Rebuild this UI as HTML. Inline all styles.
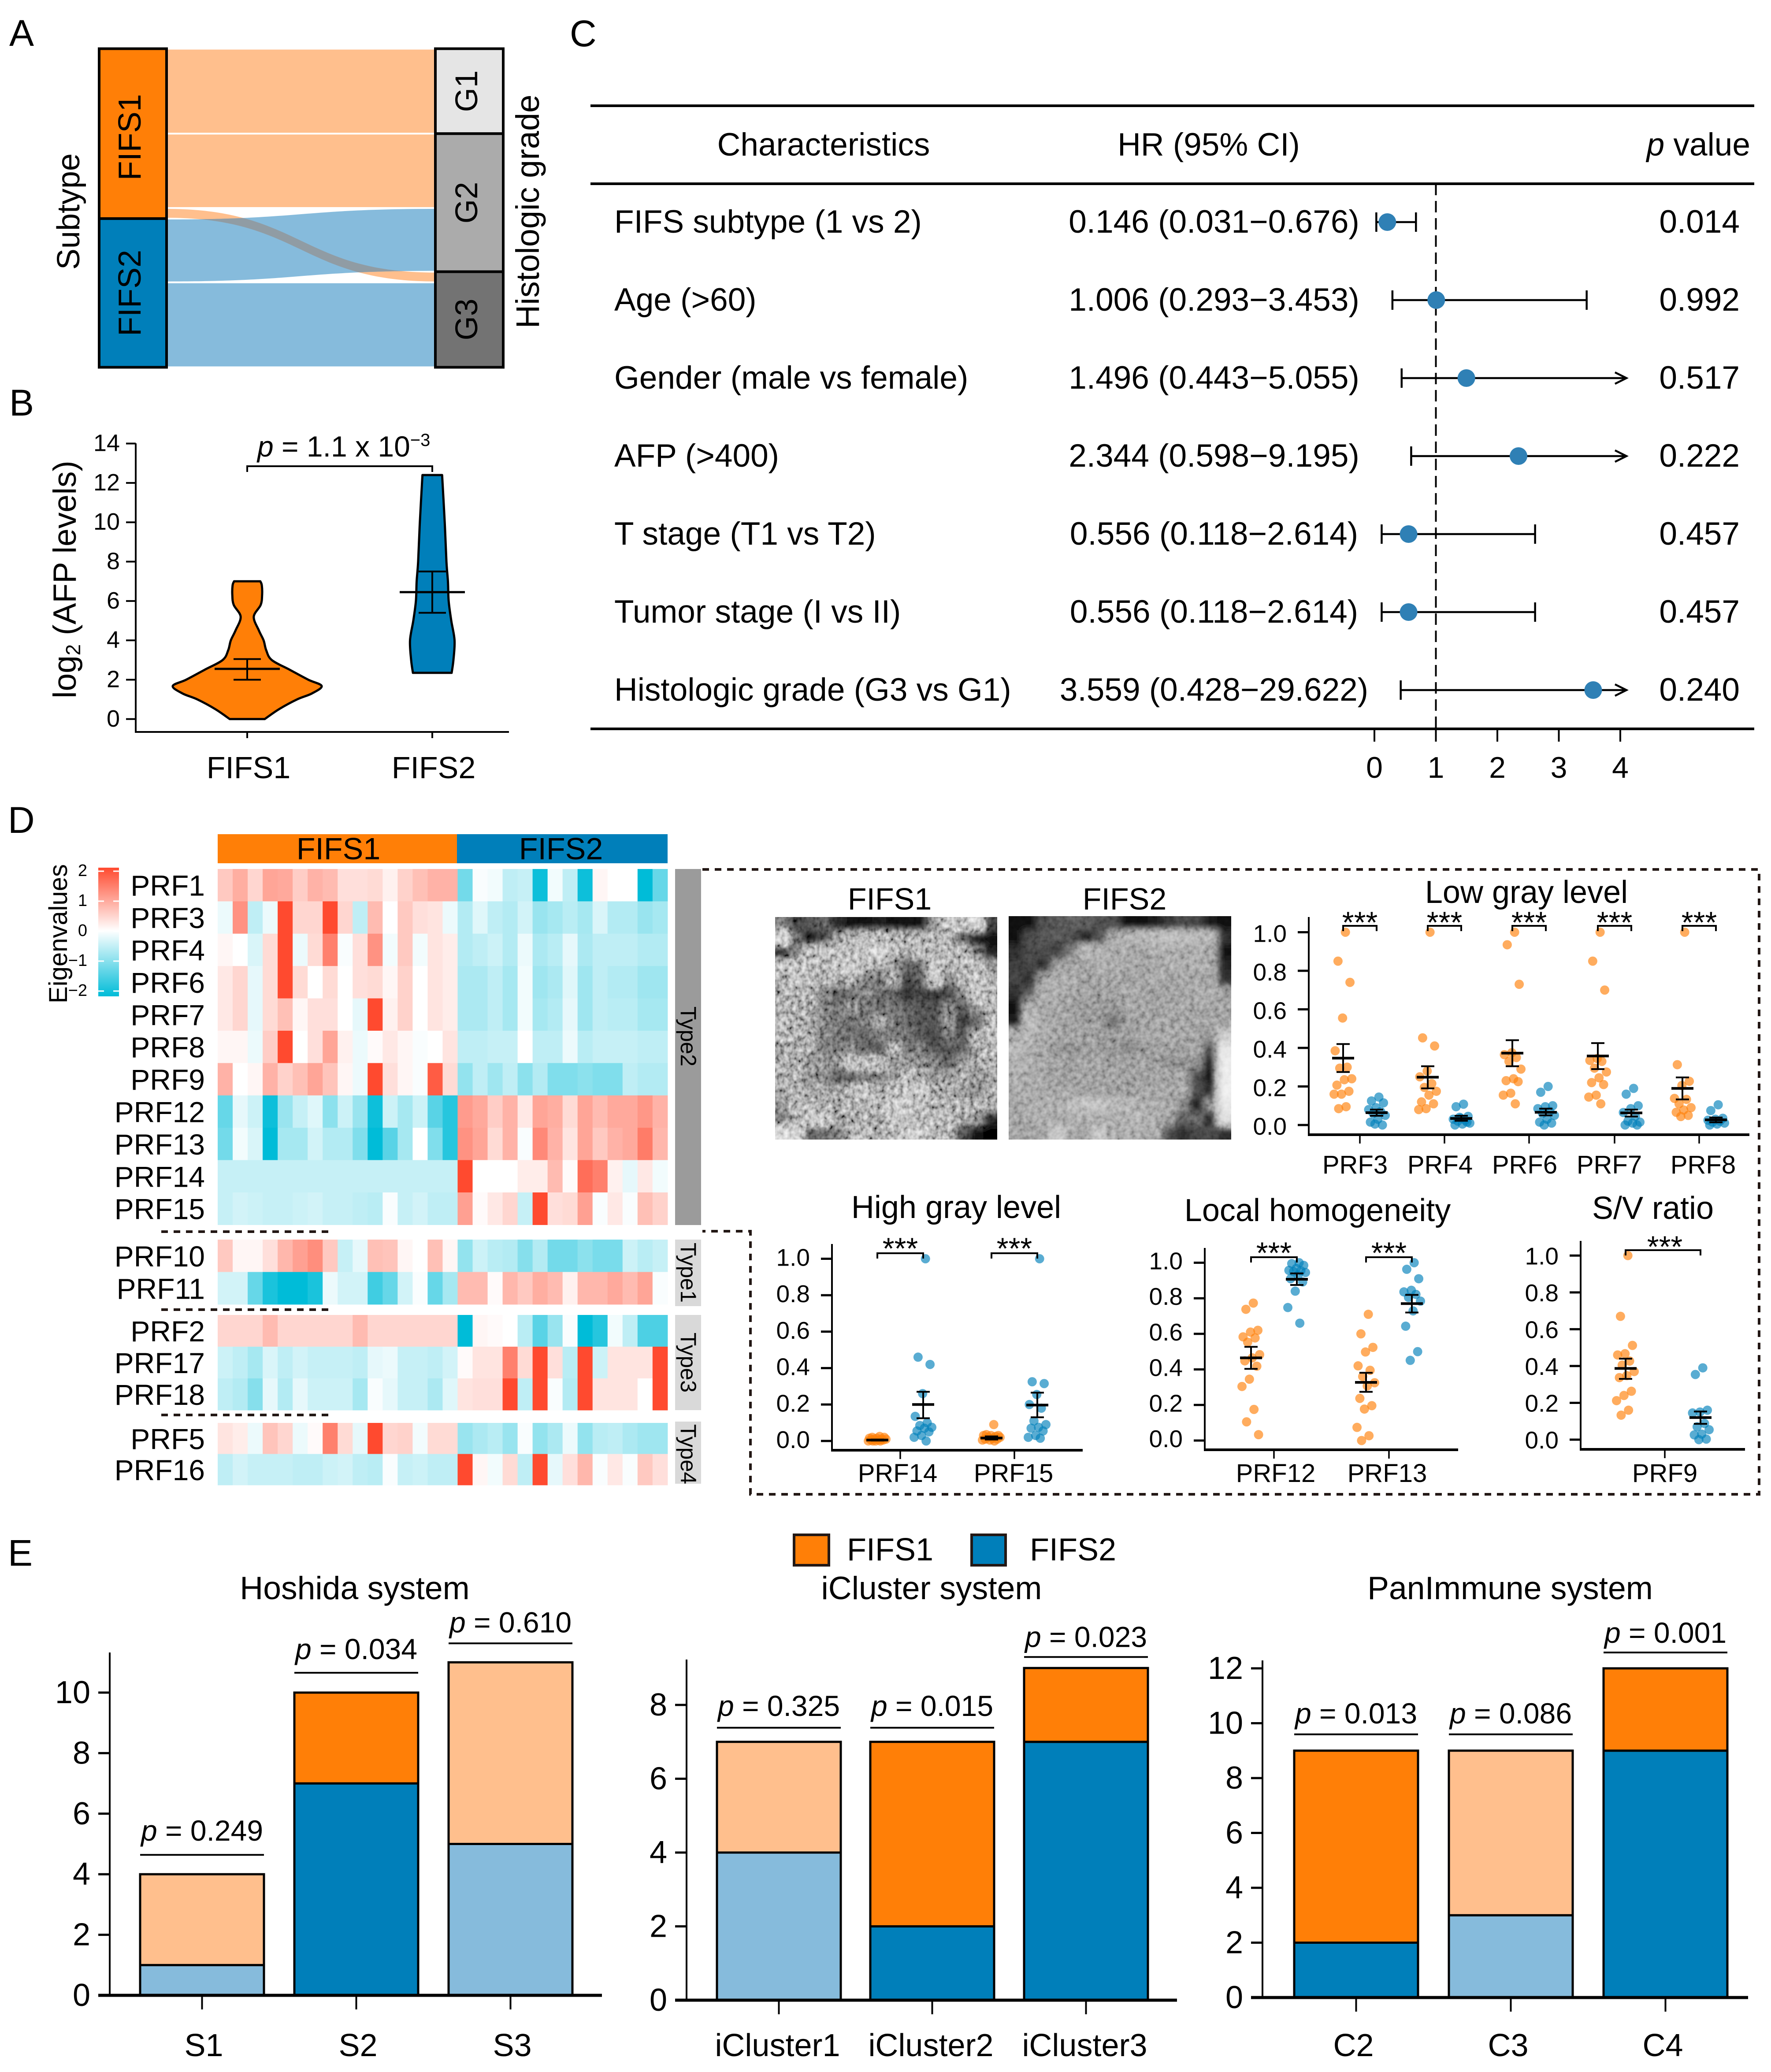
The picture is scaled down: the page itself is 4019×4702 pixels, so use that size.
<!DOCTYPE html>
<html lang="en">
<head>
<meta charset="utf-8">
<title>FIFS subtype composite figure</title>
<style>
html,body{margin:0;padding:0;background:#fff;}
svg{display:block;font-family:"Liberation Sans",Arial,sans-serif;fill:#000;}
</style>
</head>
<body>
<svg id="fig" xmlns="http://www.w3.org/2000/svg" width="4019" height="4702" viewBox="0 0 4019 4702">
<defs id="figDefs">
<linearGradient id="heatLegendGrad" x1="0" y1="0" x2="0" y2="1">
<stop offset="0" stop-color="#FF4A2F"/><stop offset="0.49" stop-color="#FFFFFF"/><stop offset="1" stop-color="#00BCD8"/>
</linearGradient>
<filter id="ctBlur" x="-5%" y="-5%" width="110%" height="110%"><feGaussianBlur stdDeviation="8"/></filter>
<filter id="ctNoiseA" x="0" y="0" width="1" height="1">
<feTurbulence type="fractalNoise" baseFrequency="0.1 0.085" numOctaves="2" seed="4"/>
<feColorMatrix values="1.5 0 0 0 -0.25  1.5 0 0 0 -0.25  1.5 0 0 0 -0.25  0 0 0 0 1"/>
</filter>
<filter id="ctNoiseB" x="0" y="0" width="1" height="1">
<feTurbulence type="fractalNoise" baseFrequency="0.09 0.09" numOctaves="2" seed="9"/>
<feColorMatrix values="1.2 0 0 0 -0.1  1.2 0 0 0 -0.1  1.2 0 0 0 -0.1  0 0 0 0 1"/>
</filter>
<clipPath id="ct1Clip"><rect x="1759" y="2081" width="504" height="505"/></clipPath>
<clipPath id="ct2Clip"><rect x="2289" y="2079" width="505" height="507"/></clipPath>
</defs>

<g font-size="84">
<text x="21" y="104">A</text>
<text x="21" y="943">B</text>
<text x="1293" y="105">C</text>
<text x="18" y="1890">D</text>
<text x="18" y="3553">E</text>
</g>

<g id="panelA">
<text transform="translate(180,480) rotate(-90)" text-anchor="middle" font-size="72">Subtype</text>
<text transform="translate(1223,480) rotate(-90)" text-anchor="middle" font-size="74">Histologic grade</text>
</g>

<g id="panelB">
<text transform="translate(172,1315) rotate(-90)" text-anchor="middle" font-size="73">log<tspan font-size="46" dy="10">2</tspan><tspan dy="-10"> (AFP levels)</tspan></text>
<text x="584" y="1036" font-size="66"><tspan font-style="italic">p</tspan> = 1.1 x 10<tspan font-size="40" dy="-24">−3</tspan></text>
</g>

<g id="panelC">
<text x="1869" y="353" text-anchor="middle" font-size="73">Characteristics</text>
<text x="2743" y="353" text-anchor="middle" font-size="73">HR (95% CI)</text>
<text x="3972" y="353" text-anchor="end" font-size="73"><tspan font-style="italic">p</tspan> value</text>
</g>

<g id="panelD">
<text transform="translate(152,2119) rotate(-90)" text-anchor="middle" font-size="58">Eigenvalues</text>
<rect x="223" y="1969" width="47" height="292" fill="url(#heatLegendGrad)"/>
<rect x="494" y="1893" width="543" height="66" fill="#FF7F07"/>
<rect x="1037" y="1893" width="478" height="66" fill="#007FBA"/>
<text x="768" y="1950" text-anchor="middle" font-size="70">FIFS1</text>
<text x="1273" y="1950" text-anchor="middle" font-size="70">FIFS2</text>
</g>

<g fill="none" stroke="#231815" stroke-width="6" stroke-dasharray="15 13">
<path d="M1594 1973H3992V3391H1703V2794H1594"/>
<path d="M366 2795H747"/>
<path d="M366 2972H747"/>
<path d="M366 3211H747"/>
</g>

<g id="panelCT">
<text x="2019" y="2064" text-anchor="middle" font-size="70">FIFS1</text>
<text x="2552" y="2064" text-anchor="middle" font-size="70">FIFS2</text>
</g>

<g id="panelDots">
<text x="3464" y="2049" text-anchor="middle" font-size="72">Low gray level</text>
<text x="2170" y="2764" text-anchor="middle" font-size="72">High gray level</text>
<text x="2990" y="2771" text-anchor="middle" font-size="72">Local homogeneity</text>
<text x="3751" y="2766" text-anchor="middle" font-size="72">S/V ratio</text>
</g>

<g id="panelE">
<rect x="1802" y="3483" width="79" height="69" fill="#FF7F07" stroke="#231815" stroke-width="6"/>
<text x="2020" y="3541" text-anchor="middle" font-size="72">FIFS1</text>
<rect x="2205" y="3483" width="77" height="69" fill="#007FBA" stroke="#231815" stroke-width="6"/>
<text x="2435" y="3541" text-anchor="middle" font-size="72">FIFS2</text>
<text x="805" y="3629" text-anchor="middle" font-size="73.3">Hoshida system</text>
<text x="2114" y="3629" text-anchor="middle" font-size="73.3">iCluster system</text>
<text x="3427" y="3629" text-anchor="middle" font-size="73.3">PanImmune system</text>
</g>
</svg>

<script>
/* ---------- Panel A data ---------- */
const sankeySources = ['FIFS1','FIFS1','FIFS1','FIFS2','FIFS2'];
const sankeyTargets = ['G1','G2','G3','G2','G3'];
const sankeyCounts = [8,7,1,6,8];

/* ---------- Panel B data ---------- */
const violinF1Levels = [0,0.5,1,1.3,1.68,2,2.5,3,3.5,4,4.5,5.2,5.8,6.3,6.8,7];
const violinF1Density = [0.235,0.426,0.67,0.868,1,0.82,0.574,0.33,0.255,0.22,0.157,0.088,0.181,0.2,0.196,0.176];
const violinF2Levels = [2.35,3,4,5,6,7,8,10,12.4];
const violinF2Density = [0.26,0.284,0.299,0.255,0.22,0.21,0.19,0.167,0.132];
const violinF1Summary = [2.55,2.0,3.05];
const violinF2Summary = [6.45,5.4,7.5];
const violinTicks = [0,2,4,6,8,10,12,14];
const violinCats = ['FIFS1','FIFS2'];

/* ---------- Panel C data ---------- */
const forestNames = ['FIFS subtype (1 vs 2)','Age (>60)','Gender (male vs female)','AFP (>400)','T stage (T1 vs T2)','Tumor stage (I vs II)','Histologic grade (G3 vs G1)'];
const forestLabels = ['0.146 (0.031−0.676)','1.006 (0.293−3.453)','1.496 (0.443−5.055)','2.344 (0.598−9.195)','0.556 (0.118−2.614)','0.556 (0.118−2.614)','3.559 (0.428−29.622)'];
const forestPValues = ['0.014','0.992','0.517','0.222','0.457','0.457','0.240'];
const forestHR = [0.21,1.006,1.496,2.344,0.556,0.556,3.559];
const forestLow = [0.031,0.293,0.443,0.598,0.118,0.118,0.428];
const forestHigh = [0.676,3.453,5.055,9.195,2.614,2.614,29.622];
const forestTicks = [0,1,2,3,4];

/* ---------- Panel D heatmap data (16 FIFS1 then 14 FIFS2 samples) ---------- */
const heatPRF1 = [.6,.9,.45,1,.95,.55,.85,.75,.35,.35,.4,.15,.5,.7,.85,.85,-1.1,-.05,-.1,-.5,-.45,-1.9,-.1,-.5,-1.9,.1,0,0,-2,-1.2];
const heatPRF3 = [-.15,1.2,-.5,-.15,2,.45,.45,2,.45,-.5,.75,0,.6,.35,.3,-.15,-.6,-.25,-.5,-.6,-.35,-.8,-.7,-.55,-.7,-.3,-.6,-.6,-.8,-.7];
const heatPRF4 = [.1,0,-.3,.4,2,-.15,.4,1.4,-.05,.35,1.2,-.1,.6,-.1,.3,.2,-.6,-.5,-.4,-.6,-.15,-.65,-.55,-.2,-.65,-.5,-.5,-.5,-.6,-.6];
const heatPRF6 = [.25,.45,-.2,.4,2,.4,0,.4,0,.35,.4,.1,.5,0,.3,.2,-.65,-.65,-.5,-.7,-.1,-.75,-.65,-.25,-.75,-.5,-.6,-.6,-.75,-.75];
const heatPRF7 = [.25,.45,-.2,.4,.7,.1,.35,.35,0,-.2,2,.15,.5,0,.3,.2,-.65,-.65,-.5,-.7,-.1,-.7,-.6,-.2,-.75,-.5,-.55,-.55,-.7,-.7];
const heatPRF8 = [.1,.1,-.15,.55,2,0,.35,1,.15,-.15,.05,.25,.1,-.05,0,.3,-.5,-.5,-.45,-.45,0,-.5,-.5,-.15,-.55,-.45,-.45,-.45,-.5,-.5];
const heatPRF9 = [.85,0,.1,.85,.5,.7,1,.65,.1,-.15,2,.35,.1,-.05,1.8,.4,-.85,-.5,-.75,-.5,-.9,-.6,-1,-1,-.9,-1,-1,-.5,-.6,-.6];
const heatPRF12 = [-1.2,-.2,-.4,-1.9,-.8,-.45,-.25,-.9,-.4,-.8,-1.9,-.4,-.7,-.4,-1.3,-1.7,1.1,.95,.55,.85,.25,1,.9,.4,1,.75,.95,.95,1.15,.85];
const heatPRF13 = [-1.1,-.1,-.3,-2,-.7,-.7,-.35,-.6,-.6,-1,-2,-1.3,-.7,0,-1,-1.7,1.2,1,.4,.85,-.05,1.3,.85,.3,1,.6,.85,.95,1.45,.8];
const heatPRF14 = [-.45,-.45,-.45,-.45,-.45,-.45,-.45,-.45,-.45,-.45,-.45,-.45,-.45,-.45,-.45,-.45,2,0,0,0,.2,.2,.75,.05,1.6,1.4,.15,-.2,.25,-.1];
const heatPRF15 = [-.45,-.35,-.4,-.45,-.45,-.4,-.35,-.45,-.45,-.5,-.55,-.05,-.45,-.35,-.5,-.5,1.05,.05,.25,.45,-.45,2,.35,.4,1.05,-.05,.25,-.05,.7,.5];
const heatPRF10 = [.6,.1,.1,.35,.8,1.05,1.25,.6,-.45,-.2,.7,.65,.1,0,.7,.1,-.85,-.4,-.55,-.6,-.95,-.6,-1.1,-1.1,-.9,-1.05,-1.05,-.4,-.55,-.45];
const heatPRF11 = [-.35,-.35,-1.2,-1.8,-2,-2,-1.8,-.15,-.35,-.35,-1.5,-1.2,-.35,-.05,-1.2,-.7,.75,.75,.05,.8,.6,.9,.75,.15,.8,.8,.95,.75,1,-.05];
const heatPRF2 = [.45,.45,.45,.75,.45,.45,.45,.45,.45,.75,.45,.45,.45,.45,.45,.45,-2,.1,.05,0,-.55,-1.3,-.8,-.05,-2,-1.7,-.1,-.5,-1.4,-1.4];
const heatPRF17 = [-.4,-.5,-.7,-.3,-.5,-.35,-.45,-.45,-.45,-.5,-.2,-.15,-.45,-.45,-.5,-.35,.05,.3,.3,1.4,.4,2,.35,-.55,2,-.4,.3,.3,.3,2];
const heatPRF18 = [-.5,-.6,-.95,-.2,-.6,-.2,-.4,-.4,-.4,-.7,-.05,-.2,-.45,-.45,-.65,-.25,.3,.35,.35,2,-.5,2,-.05,-.6,2,.3,.3,.3,0,2];
const heatPRF5 = [.3,.2,-.15,.65,.45,-.15,.05,1.4,.4,-.2,2,.45,.5,-.1,.4,.4,-.8,-.65,-.55,-.8,-.05,-.85,-.65,-.15,-.85,-.55,-.5,-.65,-.75,-.75];
const heatPRF16 = [-.5,-.35,-.45,-.45,-.45,-.5,-.5,-.4,-.35,-.5,-.55,-.05,-.45,-.4,-.5,-.5,2,.1,-.1,.4,-.5,2,-.2,.35,.8,-.05,.25,-.05,.6,.35];
const heatRowNames = ['PRF1','PRF3','PRF4','PRF6','PRF7','PRF8','PRF9','PRF12','PRF13','PRF14','PRF15','PRF10','PRF11','PRF2','PRF17','PRF18','PRF5','PRF16'];
const heatRows = [heatPRF1,heatPRF3,heatPRF4,heatPRF6,heatPRF7,heatPRF8,heatPRF9,heatPRF12,heatPRF13,heatPRF14,heatPRF15,heatPRF10,heatPRF11,heatPRF2,heatPRF17,heatPRF18,heatPRF5,heatPRF16];
const heatBlockNames = ['Type2','Type1','Type3','Type4'];
const heatBlockSizes = [11,2,3,2];
const heatLegendTicks = ['2','1','0','−1','−2'];

/* ---------- Radiomics dot plot data ---------- */
const dotsPRF3F1 = [1,.85,.74,.555,.385,.3,.295,.24,.235,.207,.175,.16,.16,.095,.085];
const dotsPRF3F2 = [.145,.125,.115,.09,.08,.07,.06,.05,.03,.015,0,.005];
const dotsPRF4F1 = [1,.452,.41,.28,.25,.215,.195,.175,.155,.12,.11,.085,.08];
const dotsPRF4F2 = [.108,.095,.045,.035,.03,.025,.02,.01,.005,0,.015,.04];
const dotsPRF6F1 = [1,.935,.73,.375,.365,.35,.33,.29,.24,.23,.225,.165,.155,.11];
const dotsPRF6F2 = [.2,.17,.1,.095,.085,.07,.06,.05,.03,.015,.01,0];
const dotsPRF7F1 = [1,.85,.7,.345,.335,.33,.295,.275,.245,.22,.21,.155,.145,.11];
const dotsPRF7F2 = [.19,.16,.1,.085,.065,.045,.02,.015,.01,0,0];
const dotsPRF8F1 = [1,.313,.227,.205,.138,.133,.11,.09,.078,.066,.05,.044];
const dotsPRF8F2 = [.105,.075,.035,.03,.025,.02,.015,.01,.005,0];
const dotsPRF14F1 = [.025,.02,.02,.015,.015,.01,.01,.01,.005,.005,.005,0,0,0,0];
const dotsPRF14F2 = [1,.46,.42,.26,.135,.1,.085,.075,.07,.055,.05,.03,.02,0];
const dotsPRF15F1 = [.09,.035,.03,.03,.03,.025,.02,.02,.015,.01,.01,.005,.005,0];
const dotsPRF15F2 = [1,.325,.315,.255,.2,.18,.11,.09,.075,.07,.055,.03,.02,.015];
const dotsPRF12F1 = [.773,.738,.62,.61,.583,.577,.553,.483,.465,.448,.418,.345,.304,.175,.105,.033];
const dotsPRF12F2 = [1,.995,.985,.968,.957,.955,.95,.945,.93,.91,.892,.84,.748,.66];
const dotsPRF13F1 = [.71,.6,.524,.498,.42,.395,.36,.325,.307,.237,.196,.177,.074,.027,0];
const dotsPRF13F2 = [1,.963,.91,.845,.836,.822,.805,.784,.729,.643,.5,.451];
const dotsPRF9F1 = [1,.67,.512,.467,.46,.427,.405,.37,.348,.337,.263,.24,.212,.16,.133];
const dotsPRF9F2 = [.39,.354,.16,.15,.145,.088,.07,.054,.03,.026,.003,0];
const summaryPRF3 = [.347,.275,.42,.064,.048,.08];
const summaryPRF4 = [.248,.19,.305,.034,.022,.048];
const summaryPRF6 = [.373,.305,.44,.066,.05,.085];
const summaryPRF7 = [.358,.29,.425,.063,.044,.08];
const summaryPRF8 = [.19,.133,.247,.027,.014,.039];
const summaryPRF14 = [.005,.002,.008,.2,.125,.27];
const summaryPRF15 = [.016,.008,.025,.197,.13,.265];
const summaryPRF12 = [.465,.403,.527,.907,.875,.94];
const summaryPRF13 = [.327,.274,.381,.77,.72,.819];
const summaryPRF9 = [.387,.33,.44,.12,.086,.153];
const dotTicks = ['0.0','0.2','0.4','0.6','0.8','1.0'];

/* ---------- Panel E data ---------- */
const hoshidaCats = ['S1','S2','S3'];
const hoshidaFIFS2 = [1,7,5];
const hoshidaFIFS1 = [3,3,6];
const hoshidaP = ['0.249','0.034','0.610'];
const hoshidaTicks = [0,2,4,6,8,10];
const iclusterCats = ['iCluster1','iCluster2','iCluster3'];
const iclusterFIFS2 = [4,2,7];
const iclusterFIFS1 = [3,5,2];
const iclusterP = ['0.325','0.015','0.023'];
const iclusterTicks = [0,2,4,6,8];
const panimmuneCats = ['C2','C3','C4'];
const panimmuneFIFS2 = [2,3,9];
const panimmuneFIFS1 = [7,6,3];
const panimmuneP = ['0.013','0.086','0.001'];
const panimmuneTicks = [0,2,4,6,8,10,12];

/* ---------- CT brightness maps (coarse gray levels) ---------- */
const ctFIFS1Gray = [
[90,50,60,70,30,15,15,20,10,10,10,110,170,150,190,50],
[200,80,15,50,110,135,150,150,140,135,140,135,120,70,15,10],
[20,90,150,165,150,155,160,195,140,125,150,145,150,145,90,20],
[150,155,150,135,165,170,150,120,110,70,80,160,135,140,150,110],
[130,170,145,130,125,130,90,90,130,50,70,175,90,130,165,130],
[130,130,130,100,70,80,100,80,70,40,50,40,50,100,170,140],
[135,130,125,95,85,110,85,80,85,70,60,55,100,60,110,140],
[150,130,120,100,90,80,90,125,90,75,60,60,110,40,70,125],
[140,130,125,100,85,80,75,90,90,85,65,50,90,65,130,150],
[120,125,125,90,95,100,70,60,135,90,90,65,60,70,120,140],
[130,130,110,110,110,165,160,150,110,110,105,95,70,115,125,125],
[130,130,110,100,65,60,90,90,110,150,120,110,115,125,110,120],
[120,125,120,125,120,150,165,130,140,165,170,130,125,110,100,125],
[110,140,140,125,125,130,140,130,170,170,150,130,125,140,135,130],
[90,130,170,175,120,125,125,125,170,150,140,140,150,120,110,30],
[200,180,70,80,90,130,150,120,130,180,170,140,130,60,10,5]];
const ctFIFS2Gray = [
[10,10,65,70,78,78,65,60,15,10,25,45,60,55,25,10],
[10,60,70,70,65,30,65,140,155,165,170,175,170,165,165,40],
[40,60,60,50,100,165,155,145,145,128,150,150,145,150,138,15],
[50,55,40,122,138,138,145,150,145,138,138,145,150,150,145,30],
[55,40,132,150,145,132,138,138,132,138,145,138,138,138,145,40],
[40,78,155,150,138,138,132,132,145,138,132,138,138,145,150,132],
[10,150,138,138,132,122,122,122,138,138,132,138,138,138,138,138],
[20,172,145,138,132,128,128,95,122,132,138,138,138,138,138,132],
[145,165,145,138,138,132,128,122,132,138,138,145,138,132,122,185],
[165,145,138,122,116,128,128,122,110,122,132,132,132,138,65,225],
[155,150,138,138,132,138,138,132,132,138,128,116,116,116,20,230],
[150,145,138,132,132,138,132,138,132,132,138,138,138,65,15,230],
[145,145,145,138,138,138,132,132,132,138,138,138,145,65,40,235],
[138,145,150,150,165,178,182,165,160,150,145,145,110,10,120,225],
[138,145,150,145,150,150,145,145,155,160,145,132,78,88,30,215],
[138,132,138,188,145,138,182,145,150,145,150,65,40,55,65,40]];

const NS = 'http://www.w3.org/2000/svg';
const ORANGE = '#FF7F07', BLUE = '#007FBA', PEACH = '#FFBF8D', SKY = '#86BBDC', OVERLAP = '#909CA4';

function mk(tag, attrs, parent) {
  const el = document.createElementNS(NS, tag);
  for (const k in attrs) el.setAttribute(k, attrs[k]);
  parent.appendChild(el);
  return el;
}
function seg(parent, x1, y1, x2, y2, w, color) {
  return mk('line', {x1, y1, x2, y2, stroke: color || '#000', 'stroke-width': w}, parent);
}
function label(parent, x, y, str, size, anchor) {
  const el = mk('text', {x, y, 'font-size': size, 'text-anchor': anchor || 'middle'}, parent);
  el.textContent = str;
  return el;
}
function italicP(parent, x, y, str, size) {
  const el = mk('text', {x, y, 'font-size': size, 'text-anchor': 'middle'}, parent);
  const t = mk('tspan', {'font-style': 'italic'}, el);
  t.textContent = 'p';
  el.appendChild(document.createTextNode(' = ' + str));
  return el;
}

/* ---------- Panel A ---------- */
(function drawSankey() {
  const g = document.getElementById('panelA');
  const unit = 24.1, top = 110.5;
  const lx0 = 225, lx1 = 378, rx0 = 988, rx1 = 1142;
  const yOf = c => top + c * unit;
  const srcOrder = ['FIFS1','FIFS2'], tgtOrder = ['G1','G2','G3'];
  const srcTotal = {}, tgtTotal = {};
  sankeyCounts.forEach((c, i) => {
    srcTotal[sankeySources[i]] = (srcTotal[sankeySources[i]] || 0) + c;
    tgtTotal[sankeyTargets[i]] = (tgtTotal[sankeyTargets[i]] || 0) + c;
  });
  const srcStart = {}, tgtStart = {};
  let acc = 0;
  srcOrder.forEach(s => { srcStart[s] = acc; acc += srcTotal[s]; });
  acc = 0;
  tgtOrder.forEach(t => { tgtStart[t] = acc; acc += tgtTotal[t]; });
  const srcUsed = {FIFS1: 0, FIFS2: 0}, tgtUsed = {G1: 0, G2: 0, G3: 0};
  const flowPaths = sankeyCounts.map((c, i) => {
    const s = sankeySources[i], t = sankeyTargets[i];
    const a0 = yOf(srcStart[s] + srcUsed[s]) + 2, a1 = yOf(srcStart[s] + srcUsed[s] + c) - 2;
    const b0 = yOf(tgtStart[t] + tgtUsed[t]) + 2, b1 = yOf(tgtStart[t] + tgtUsed[t] + c) - 2;
    srcUsed[s] += c; tgtUsed[t] += c;
    const mx = (lx1 + rx0) / 2;
    return {s, d: `M${lx1} ${a0}C${mx} ${a0} ${mx} ${b0} ${rx0} ${b0}L${rx0} ${b1}C${mx} ${b1} ${mx} ${a1} ${lx1} ${a1}Z`};
  });
  const clip = mk('clipPath', {id: 'fifs2FlowClip'}, document.getElementById('figDefs'));
  flowPaths.forEach(f => {
    const el = mk('path', {d: f.d, fill: f.s === 'FIFS1' ? PEACH : SKY}, g);
    
    
    if (f.s === 'FIFS2') mk('path', {d: f.d}, clip);
  });
  flowPaths.filter(f => f.s === 'FIFS1').forEach(f => {
    const el = mk('path', {d: f.d, fill: OVERLAP, 'clip-path': 'url(#fifs2FlowClip)'}, g);
    
    
  });
  const fills = {FIFS1: ORANGE, FIFS2: BLUE, G1: '#E5E5E5', G2: '#ABABAB', G3: '#737373'};
  const srcLabelShift = {FIFS1: 8, FIFS2: 0};
  srcOrder.forEach(s => {
    const y0 = yOf(srcStart[s]), h = srcTotal[s] * unit;
    const r = mk('rect', {x: lx0, y: y0, width: lx1 - lx0, height: h, fill: fills[s], stroke: '#000', 'stroke-width': 6}, g);
    
    
    const tx = mk('text', {transform: `translate(319,${y0 + h / 2 + srcLabelShift[s]}) rotate(-90)`, 'font-size': 72, 'text-anchor': 'middle'}, g);
    tx.textContent = s;
    
    
  });
  tgtOrder.forEach(t => {
    const y0 = yOf(tgtStart[t]), h = tgtTotal[t] * unit;
    const r = mk('rect', {x: rx0, y: y0, width: rx1 - rx0, height: h, fill: fills[t], stroke: '#000', 'stroke-width': 6}, g);
    
    
    const tx = mk('text', {transform: `translate(1083,${y0 + h / 2}) rotate(-90)`, 'font-size': 71, 'text-anchor': 'middle'}, g);
    tx.textContent = t;
    
    
  });
})();

/* ---------- Panel B ---------- */
(function drawViolin() {
  const g = document.getElementById('panelB');
  const y = v => 1631.8 - 44.66 * v;
  const cx = [561, 981], maxHalf = 169;
  function smooth(pts) {
    let d = `M${pts[0][0]} ${pts[0][1]}`;
    for (let i = 0; i < pts.length - 1; i++) {
      const p0 = pts[Math.max(i - 1, 0)], p1 = pts[i], p2 = pts[i + 1], p3 = pts[Math.min(i + 2, pts.length - 1)];
      d += `C${p1[0] + (p2[0] - p0[0]) / 6} ${p1[1] + (p2[1] - p0[1]) / 6} ${p2[0] - (p3[0] - p1[0]) / 6} ${p2[1] - (p3[1] - p1[1]) / 6} ${p2[0]} ${p2[1]}`;
    }
    return d;
  }
  function violin(levels, density, c, fill) {
    const left = levels.map((v, i) => [c - density[i] * maxHalf, y(v)]);
    const right = levels.map((v, i) => [c + density[i] * maxHalf, y(v)]).reverse();
    const d = smooth(left) + 'L' + right[0][0] + ' ' + right[0][1] + smooth(right).replace(/^M[^C]+/, '') + 'Z';
    return mk('path', {d, fill, stroke: '#000', 'stroke-width': 5, 'stroke-linejoin': 'round'}, g);
  }
  const v1 = violin(violinF1Levels, violinF1Density, cx[0], ORANGE);
  
  
  const v2 = violin(violinF2Levels, violinF2Density, cx[1], BLUE);
  
  
  [violinF1Summary, violinF2Summary].forEach((s, i) => {
    const m = seg(g, cx[i] - 74, y(s[0]), cx[i] + 74, y(s[0]), 5);
    
    
    const e = mk('path', {d: `M${cx[i] - 31} ${y(s[1])}H${cx[i] + 31}M${cx[i] - 31} ${y(s[2])}H${cx[i] + 31}M${cx[i]} ${y(s[1])}V${y(s[2])}`, fill: 'none', stroke: '#000', 'stroke-width': 4}, g);
    
    
  });
  const ya = seg(g, 308, 1006, 308, 1661, 4);
  
  
  const xa = seg(g, 306, 1661, 1155, 1661, 4);
  
  
  violinTicks.forEach(v => {
    const t = seg(g, 286, y(v), 308, y(v), 4);
    
    
    const l = label(g, 272, y(v) + 17, String(v), 54, 'end');
    
    
  });
  violinCats.forEach((c, i) => {
    const t = seg(g, cx[i], 1661, cx[i], 1675, 4);
    
    
    const l = label(g, cx[i] + 3, 1766, c, 70);
    
    
  });
  const br = mk('path', {d: `M${cx[0]} 1071V1058H${cx[1]}V1071`, fill: 'none', stroke: '#000', 'stroke-width': 4}, g);
  
  
})();

/* ---------- Panel C ---------- */
(function drawForest() {
  const g = document.getElementById('panelC');
  const x = v => 3119 + 139.5 * v;
  const rowY = i => 504 + 177 * i;
  const axisMax = 4.1;
  [240, 417, 1654].forEach(yy => {
    const r = seg(g, 1340, yy, 3981, yy, 6);
    
    
  });
  const ref = mk('line', {x1: x(1), y1: 417, x2: x(1), y2: 1654, stroke: '#000', 'stroke-width': 4, 'stroke-dasharray': '26 13'}, g);
  
  
  forestNames.forEach((n, i) => {
    const a = label(g, 1394, rowY(i) + 24, n, 73, 'start');
    
    
    const b = label(g, 2755, rowY(i) + 24, forestLabels[i], 73);
    
    
    const c = label(g, 3948, rowY(i) + 24, forestPValues[i], 73, 'end');
    
    
    const arrow = forestHigh[i] > axisMax;
    const hi = x(Math.min(forestHigh[i], axisMax)), lo = x(forestLow[i]), yy = rowY(i);
    let d = `M${lo} ${yy - 22}V${yy + 22}M${lo} ${yy}H${hi}`;
    d += arrow ? `M${hi - 26} ${yy - 13}L${hi} ${yy}L${hi - 26} ${yy + 13}` : `M${hi} ${yy - 22}V${yy + 22}`;
    const w = mk('path', {d, fill: 'none', stroke: '#000', 'stroke-width': 4.5}, g);
    
    
    const p = mk('circle', {cx: x(forestHR[i]), cy: yy, r: 20, fill: '#2F80B5'}, g);
    
    
  });
  forestTicks.forEach(v => {
    const t = seg(g, x(v), 1654, x(v), 1683, 4);
    
    
    const l = label(g, x(v), 1765, String(v), 68);
    
    
  });
})();

/* ---------- Panel D heatmap ---------- */
(function drawHeatmap() {
  const g = document.getElementById('panelD');
  const x0 = 494, cw = 34.03;
  const tops = [1972, 2813, 2984, 3229], hs = [73.4, 73.5, 72, 70.5];
  const strips = [[1972, 2780, '#9B9B9B', 2352], [2813, 2964, '#D9D9D9', 2888], [2984, 3200, '#D9D9D9', 3092], [3226, 3367, '#D9D9D9', 3300]];
  function color(v) {
    const t = Math.min(Math.abs(v), 2) / 2;
    const c = v >= 0 ? [255, 74, 47] : [0, 188, 216];
    return `rgb(${c.map(k => Math.round(255 + (k - 255) * t)).join(',')})`;
  }
  let r = 0;
  heatBlockSizes.forEach((n, b) => {
    for (let k = 0; k < n; k++, r++) {
      const y = tops[b] + hs[b] * k;
      heatRows[r].forEach((v, c) => {
        const el = mk('rect', {x: x0 + cw * c, y, width: cw + 0.5, height: hs[b] + 0.5, fill: color(v)}, g);
        
        
      });
      const l = label(g, 465, y + hs[b] / 2 + 24, heatRowNames[r], 66, 'end');
      
      
    }
    const s = strips[b];
    const st = mk('rect', {x: 1532, y: s[0], width: 59, height: s[1] - s[0], fill: s[2]}, g);
    
    
    const tx = mk('text', {transform: `translate(1545,${s[3]}) rotate(90)`, 'font-size': 50, 'text-anchor': 'middle'}, g);
    tx.textContent = heatBlockNames[b];
    
    
  });
  const ticksY = [1977, 2045, 2113, 2181, 2249];
  heatLegendTicks.forEach((t, i) => {
    const a = mk('line', {x1: 223, x2: 236, y1: ticksY[i], y2: ticksY[i], stroke: '#fff', 'stroke-width': 3}, g);
    
    
    const b = mk('line', {x1: 257, x2: 270, y1: ticksY[i], y2: ticksY[i], stroke: '#fff', 'stroke-width': 3}, g);
    
    
    const l = label(g, 198, ticksY[i] + 11, t, 38, 'end');
    
    
  });
})();

/* ---------- CT images ---------- */
(function drawCT() {
  const g = document.getElementById('panelCT');
  function ct(gray, x, y, w, h, clipId, noiseId, bg, strength) {
    const holder = mk('g', {'clip-path': `url(#${clipId})`, style: 'isolation:isolate'}, g);
    mk('rect', {x, y, width: w, height: h, fill: bg}, holder);
    const blur = mk('g', {filter: 'url(#ctBlur)'}, holder);
    const rows = gray.length, cols = gray[0].length;
    gray.forEach((row, r) => row.forEach((v, c) => {
      const cx = x + c * w / cols - (c === 0 ? 40 : 0), cy = y + r * h / rows - (r === 0 ? 40 : 0);
      const cw = w / cols + 1 + (c === 0 || c === cols - 1 ? 40 : 0), ch = h / rows + 1 + (r === 0 || r === rows - 1 ? 40 : 0);
      mk('rect', {x: cx, y: cy, width: cw, height: ch, fill: `rgb(${v},${v},${v})`}, blur);
    }));
    mk('rect', {x, y, width: w, height: h, filter: `url(#${noiseId})`, style: `mix-blend-mode:overlay;opacity:${strength}`}, holder);
    return holder;
  }
  const a = ct(ctFIFS1Gray, 1759, 2081, 504, 505, 'ct1Clip', 'ctNoiseA', '#828282', 0.8);
  
  
  const b = ct(ctFIFS2Gray, 2289, 2079, 505, 507, 'ct2Clip', 'ctNoiseB', '#8A8A8A', 0.5);
  
  
})();

/* ---------- Dot plots ---------- */
function drawDotChart(cfg) {
  const g = document.getElementById('panelDots');
  const y = v => cfg.y0 - cfg.yScale * v;
  const ya = seg(g, cfg.axisX, cfg.top, cfg.axisX, cfg.bottom, 4);
  
  
  const xa = seg(g, cfg.axisX - 2, cfg.bottom, cfg.axisEnd, cfg.bottom, 6);
  
  
  dotTicks.forEach(t => {
    const v = parseFloat(t);
    const m = seg(g, cfg.axisX - 25, y(v), cfg.axisX, y(v), 5);
    
    
    const l = label(g, cfg.axisX - 50, y(v) + cfg.labelDy, t, 55, 'end');
    
    
  });
  cfg.groups.forEach(gr => {
    const t = seg(g, gr.tick, cfg.bottom, gr.tick, cfg.bottom + 20, 3.5);
    
    
    const l = label(g, gr.labelX, cfg.labelY, gr.name, 58);
    
    
    const ox = gr.tick - cfg.offL, bx = gr.tick + cfg.offR;
    [[gr.a, ox, ORANGE], [gr.b, bx, BLUE]].forEach(s => {
      s[0].forEach((v, i) => {
        const jitter = (((i + 1) * 0.618034) % 1 - 0.5) * 44;
        const c = mk('circle', {cx: s[1] + jitter, cy: y(v), r: 10.5, fill: s[2], 'fill-opacity': 0.65}, g);
        
        
      });
    });
    [[ox, 0], [bx, 3]].forEach(p => {
      const s = gr.s, k = p[1], xx = p[0];
      const mean = seg(g, xx - 25, y(s[k]), xx + 25, y(s[k]), 6);
      
      
      const e = mk('path', {d: `M${xx - 15} ${y(s[k + 1])}H${xx + 15}M${xx - 15} ${y(s[k + 2])}H${xx + 15}M${xx} ${y(s[k + 1])}V${y(s[k + 2])}`, fill: 'none', stroke: '#000', 'stroke-width': 4}, g);
      
      
    });
    const br = mk('path', {d: `M${ox} ${cfg.bracketY + 12}V${cfg.bracketY}H${bx}V${cfg.bracketY + 12}`, fill: 'none', stroke: '#000', 'stroke-width': 4}, g);
    
    
    const st = label(g, (gr.starX || (ox + bx) / 2), cfg.starY, '***', 69);
    
    
  });
}
drawDotChart({axisX: 2970, axisEnd: 3970, top: 2081, bottom: 2575, y0: 2553, yScale: 437.5, labelY: 2663, labelDy: 22, offL: 38, offR: 38, bracketY: 2101, starY: 2117, groups: [
  {name: 'PRF3', tick: 3086, labelX: 3075, a: dotsPRF3F1, b: dotsPRF3F2, s: summaryPRF3},
  {name: 'PRF4', tick: 3278, labelX: 3268, a: dotsPRF4F1, b: dotsPRF4F2, s: summaryPRF4},
  {name: 'PRF6', tick: 3470, labelX: 3460, a: dotsPRF6F1, b: dotsPRF6F2, s: summaryPRF6},
  {name: 'PRF7', tick: 3664, labelX: 3652, a: dotsPRF7F1, b: dotsPRF7F2, s: summaryPRF7},
  {name: 'PRF8', tick: 3856, labelX: 3865, a: dotsPRF8F1, b: dotsPRF8F2, s: summaryPRF8}
]});
drawDotChart({axisX: 1888, axisEnd: 2457, top: 2823, bottom: 3291, y0: 3270, yScale: 413.5, labelY: 3363, labelDy: 16, offL: 52, offR: 52, bracketY: 2844, starY: 2857, groups: [
  {name: 'PRF14', tick: 2043, labelX: 2037, a: dotsPRF14F1, b: dotsPRF14F2, s: summaryPRF14},
  {name: 'PRF15', tick: 2302, labelX: 2300, a: dotsPRF15F1, b: dotsPRF15F2, s: summaryPRF15}
]});
drawDotChart({axisX: 2734, axisEnd: 3309, top: 2832, bottom: 3290, y0: 3269, yScale: 403.5, labelY: 3363, labelDy: 15, offL: 52, offR: 52, bracketY: 2853, starY: 2867, groups: [
  {name: 'PRF12', tick: 2891, labelX: 2895, a: dotsPRF12F1, b: dotsPRF12F2, s: summaryPRF12},
  {name: 'PRF13', tick: 3152, labelX: 3148, a: dotsPRF13F1, b: dotsPRF13F2, s: summaryPRF13}
]});
drawDotChart({axisX: 3587, axisEnd: 3960, top: 2816, bottom: 3289, y0: 3267, yScale: 417.7, labelY: 3363, labelDy: 20, offL: 89, offR: 81, bracketY: 2837, starY: 2853, groups: [
  {name: 'PRF9', tick: 3778, labelX: 3778, a: dotsPRF9F1, b: dotsPRF9F2, s: summaryPRF9, starX: 3778}
]});

/* ---------- Panel E ---------- */
function drawBars(cfg) {
  const g = document.getElementById('panelE');
  const y = v => cfg.y0 - cfg.yScale * v;
  const ya = seg(g, cfg.axisX, cfg.top, cfg.axisX, cfg.y0, 4);
  
  
  cfg.ticks.forEach(v => {
    const t = seg(g, cfg.axisX - 26, y(v), cfg.axisX, y(v), 5);
    
    
    const l = label(g, cfg.axisX - 44, y(v) + 24, String(v), 72, 'end');
    
    
  });
  cfg.cats.forEach((c, i) => {
    const sig = parseFloat(cfg.p[i]) < 0.05;
    const left = cfg.bars[i], w = 281, cx = left + w / 2;
    const a = cfg.f2[i], b = cfg.f1[i];
    const low = mk('rect', {x: left, y: y(a), width: w, height: y(0) - y(a), fill: sig ? BLUE : SKY, stroke: '#000', 'stroke-width': 5}, g);
    
    
    const up = mk('rect', {x: left, y: y(a + b), width: w, height: y(a) - y(a + b), fill: sig ? ORANGE : PEACH, stroke: '#000', 'stroke-width': 5}, g);
    
    
    const ly = y(a + b) - cfg.lineOff[i];
    const pl = seg(g, left, ly, left + w, ly, 4);
    
    
    const pt = italicP(g, cx, ly - cfg.textOff[i], cfg.p[i], 66);
    
    
    const t = seg(g, cx, cfg.y0, cx, cfg.y0 + 32, 4);
    
    
    const l = label(g, cx + cfg.labelShift, 4666, c, 72);
    
    
  });
  const xa = seg(g, cfg.axisX - 26, cfg.y0, cfg.axisEnd, cfg.y0, 7);
  
  
}
drawBars({axisX: 249, axisEnd: 1366, top: 3750, y0: 4528, yScale: 68.7, ticks: hoshidaTicks, cats: hoshidaCats, f1: hoshidaFIFS1, f2: hoshidaFIFS2, p: hoshidaP, bars: [318, 668, 1018], lineOff: [44, 45, 43], textOff: [32, 31, 25], labelShift: 4});
drawBars({axisX: 1558, axisEnd: 2671, top: 3766, y0: 4539, yScale: 83.75, ticks: iclusterTicks, cats: iclusterCats, f1: iclusterFIFS1, f2: iclusterFIFS2, p: iclusterP, bars: [1627, 1975, 2324], lineOff: [32, 32, 25], textOff: [27, 27, 23], labelShift: -3});
drawBars({axisX: 2865, axisEnd: 3967, top: 3768, y0: 4533, yScale: 62.25, ticks: panimmuneTicks, cats: panimmuneCats, f1: panimmuneFIFS1, f2: panimmuneFIFS2, p: panimmuneP, bars: [2937, 3288, 3639], lineOff: [37, 37, 36], textOff: [25, 25, 22], labelShift: -6});
</script>
</body>
</html>
